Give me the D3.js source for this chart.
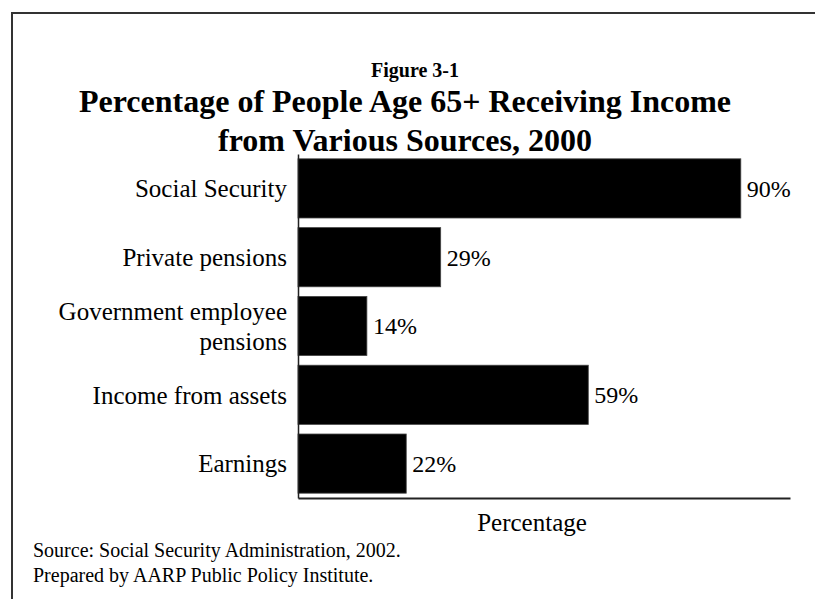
<!DOCTYPE html>
<html>
<head>
<meta charset="utf-8">
<script src="https://cdn.jsdelivr.net/npm/d3@7/dist/d3.min.js"></script>
<style>
  html, body { margin: 0; padding: 0; background: #fff; }
  svg text { font-family: "Liberation Serif", "Times New Roman", serif; fill: #000; }
</style>
</head>
<body>
<svg id="chart" width="815" height="599"></svg>
<script>
const categories = ["Social Security", "Private pensions", "Government employee pensions", "Income from assets", "Earnings"];
const categoryLines = [["Social Security"], ["Private pensions"], ["Government employee", "pensions"], ["Income from assets"], ["Earnings"]];
const values = [90, 29, 14, 59, 22];
const valueLabels = ["90%", "29%", "14%", "59%", "22%"];
const figureLabel = "Figure 3-1";
const titleLines = ["Percentage of People Age 65+ Receiving Income", "from Various Sources, 2000"];
const axisTitle = "Percentage";
const notes = ["Source: Social Security Administration, 2002.", "Prepared by AARP Public Policy Institute."];

const svg = d3.select("#chart");

// frame
svg.append("rect")
  .attr("x", 12).attr("y", 13).attr("width", 815).attr("height", 600)
  .attr("fill", "none").attr("stroke", "#333").attr("stroke-width", 2);

// titles
svg.append("text").attr("x", 415).attr("y", 77).attr("text-anchor", "middle")
  .attr("font-weight", "bold").attr("font-size", 20).text(figureLabel);
svg.selectAll(".title").data(titleLines).enter().append("text")
  .attr("class", "title")
  .attr("x", 405).attr("y", (d, i) => 112 + i * 39)
  .attr("text-anchor", "middle").attr("font-weight", "bold").attr("font-size", 32)
  .text(d => d);

const x = d3.scaleLinear().domain([0, 100]).range([298, 790]);
const y = d3.scaleBand().domain(categories).range([154, 498]).paddingInner(0.14).paddingOuter(0.07);

// bars
svg.selectAll(".bar").data(values).enter().append("rect")
  .attr("class", "bar")
  .attr("x", x(0))
  .attr("y", (d, i) => y(categories[i]))
  .attr("width", d => x(d) - x(0))
  .attr("height", y.bandwidth())
  .attr("fill", "#000")
  .attr("stroke", "#444").attr("stroke-width", 0.8);

// value labels
svg.selectAll(".val").data(values).enter().append("text")
  .attr("class", "val")
  .attr("x", d => x(d) + 6)
  .attr("y", (d, i) => y(categories[i]) + y.bandwidth() / 2)
  .attr("dy", "0.35em")
  .attr("font-size", 24)
  .text((d, i) => valueLabels[i]);

// axes
const yAxis = d3.axisLeft(y).tickSize(0).tickFormat("");
const gy = svg.append("g").attr("transform", `translate(${x(0)},0)`).call(yAxis);
gy.select(".domain").attr("stroke", "#222").attr("stroke-width", 1.5);

const xAxis = d3.axisBottom(x).tickValues([]).tickSizeOuter(0);
const gx = svg.append("g").attr("transform", "translate(0,498)").call(xAxis);
gx.select(".domain").attr("stroke", "#222").attr("stroke-width", 2);

// category labels
categories.forEach((c, i) => {
  const lines = categoryLines[i];
  const cy = y(c) + y.bandwidth() / 2;
  const t = svg.append("text").attr("x", 287).attr("text-anchor", "end").attr("font-size", 25);
  lines.forEach((ln, j) => {
    t.append("tspan").attr("x", 287)
      .attr("y", cy + (j - (lines.length - 1) / 2) * 30)
      .attr("dy", "0.35em").text(ln);
  });
});

// axis title
svg.append("text").attr("x", 532).attr("y", 531).attr("text-anchor", "middle")
  .attr("font-size", 25).text(axisTitle);

// notes
svg.selectAll(".note").data(notes).enter().append("text")
  .attr("class", "note").attr("x", 33).attr("y", (d, i) => 557 + i * 25)
  .attr("font-size", 20).text(d => d);
</script>
</body>
</html>
